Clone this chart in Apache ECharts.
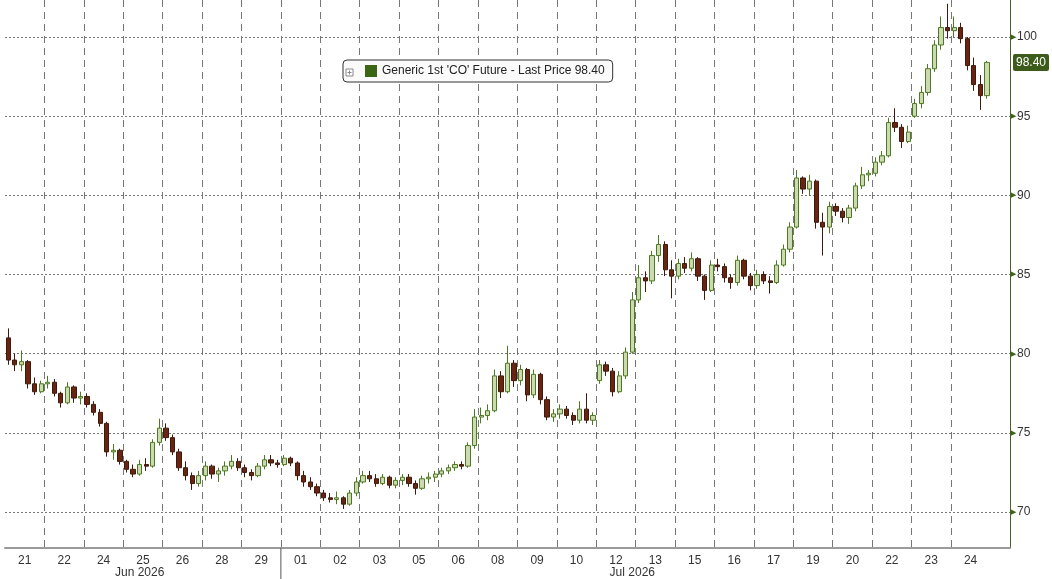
<!DOCTYPE html>
<html>
<head>
<meta charset="utf-8">
<script src="https://cdn.jsdelivr.net/npm/echarts@6/dist/echarts.min.js"></script>
<style>
  html, body { margin: 0; padding: 0; background: #fff; }
  #chart { width: 1052px; height: 579px; }
</style>
</head>
<body>
<div id="chart"></div>
<script>
// trading days shown on the axis, 6 bars (4h) per day
var days = ['21','22','24','25','26','28','29','01','02','03','05','06','08','09','10','12','13','15','16','17','19','20','22','23','24'];
var dayMonth = ['Jun','Jun','Jun','Jun','Jun','Jun','Jun','Jul','Jul','Jul','Jul','Jul','Jul','Jul','Jul','Jul','Jul','Jul','Jul','Jul','Jul','Jul','Jul','Jul','Jul'];
var hours = ['00','04','08','12','16','20'];
var seriesName = "Generic 1st 'CO' Future";
var yLabels = [70, 75, 80, 85, 90, 95, 100];

// open / high / low / close, one line per day
var opens = [
  81.0,79.6,79.3,79.5,78.1,77.6,
  78.1,78.2,77.5,76.9,77.9,77.2,
  77.3,76.8,76.3,75.6,73.8,73.9,
  73.2,72.7,72.4,73.0,72.9,74.4,
  75.3,74.7,73.8,72.8,72.3,71.8,
  72.3,72.9,72.4,72.6,72.9,73.2,
  72.8,72.5,72.3,72.9,73.3,73.1,
  73.0,73.4,73.1,72.3,71.9,71.6,
  71.2,70.9,70.8,70.9,70.5,71.2,
  71.9,72.3,72.1,71.8,72.2,71.7,
  72.0,72.2,71.8,71.5,72.1,72.2,
  72.4,72.6,72.8,73.0,72.9,74.2,
  76.0,76.1,76.4,78.6,77.6,79.4,
  78.3,79.0,77.4,78.7,77.1,76.0,
  76.2,76.5,76.1,75.8,76.5,75.8,
  78.3,79.3,78.9,77.6,78.6,80.1,
  83.4,84.8,84.6,86.2,86.9,85.3,
  84.9,85.7,85.4,86.0,84.9,84.0,
  85.6,85.5,84.8,84.5,85.9,84.9,
  84.3,85.0,84.6,84.5,85.6,86.6,
  88.0,91.1,90.4,90.9,88.3,88.0,
  89.3,89.0,88.6,89.2,90.6,91.3,
  91.4,92.1,92.5,94.6,94.3,93.4,
  95.0,95.8,96.5,98.0,99.5,100.6,
  100.4,100.6,99.9,98.2,97.0,96.3
];
var highs = [
  81.6,80.0,80.2,79.6,78.5,78.3,
  78.6,78.4,77.6,78.2,78.0,77.6,
  77.5,77.0,76.5,75.7,74.3,74.0,
  73.3,73.0,73.3,73.4,74.6,75.9,
  75.6,74.9,74.0,73.2,72.5,72.6,
  73.2,73.0,72.8,73.2,73.6,73.4,
  73.0,72.7,73.1,73.6,73.6,73.3,
  73.6,73.5,73.2,72.6,72.2,71.8,
  71.4,71.2,71.3,71.0,71.4,72.2,
  72.6,72.6,72.4,72.4,72.3,72.2,
  72.4,72.4,72.0,72.3,72.5,72.6,
  72.8,73.0,73.2,73.2,74.4,76.5,
  76.6,76.8,79.0,78.9,80.5,79.6,
  79.3,79.1,79.0,78.8,77.3,76.5,
  76.8,76.7,76.3,77.0,77.5,76.3,
  79.6,79.5,79.1,78.9,80.4,83.9,
  85.6,85.2,86.5,87.5,87.1,85.9,
  86.0,86.1,86.4,86.1,85.0,85.9,
  86.0,85.7,85.0,86.2,86.0,85.1,
  85.3,85.2,84.9,85.9,86.9,88.3,
  91.6,91.2,91.3,91.0,88.9,89.6,
  89.5,89.2,89.4,90.8,91.8,91.6,
  92.4,92.8,94.9,95.5,94.5,94.4,
  96.1,96.9,98.3,99.8,101.3,102.1,
  101.3,100.9,100.0,98.7,97.6,98.5
];
var lows = [
  79.3,78.9,78.9,77.8,77.4,77.5,
  77.8,77.3,76.6,76.8,76.9,76.8,
  76.6,76.1,75.4,73.5,73.3,73.0,
  72.5,72.2,72.3,72.6,72.8,74.2,
  74.5,73.6,72.6,72.0,71.4,71.6,
  72.0,72.1,71.9,72.3,72.7,72.6,
  72.2,72.0,72.2,72.7,72.9,72.8,
  72.9,72.9,72.0,71.6,71.4,71.0,
  70.7,70.6,70.5,70.2,70.4,71.0,
  71.8,71.9,71.6,71.7,71.5,71.5,
  71.7,71.6,71.1,71.4,71.8,71.9,
  72.2,72.4,72.6,72.7,72.8,74.0,
  75.6,75.8,76.3,77.2,77.5,77.9,
  78.0,77.0,77.2,76.8,75.8,75.7,
  75.9,75.9,75.5,75.6,75.6,75.5,
  78.1,78.6,77.3,77.5,78.4,80.0,
  83.2,83.9,84.4,85.8,84.9,83.5,
  84.7,85.1,85.2,84.6,83.4,83.9,
  85.2,84.5,84.1,84.3,84.7,84.0,
  84.1,84.4,83.8,84.4,85.5,86.4,
  87.9,90.1,90.0,87.9,86.2,87.6,
  88.7,88.3,88.2,89.0,90.4,90.9,
  91.2,91.9,92.4,94.0,93.0,93.3,
  94.9,95.5,96.3,97.8,99.2,99.9,
  100.0,99.6,97.9,96.6,95.4,96.1
];
var closes = [
  79.6,79.3,79.5,78.1,77.6,78.1,
  78.2,77.5,76.9,77.9,77.2,77.3,
  76.8,76.3,75.6,73.8,73.9,73.2,
  72.7,72.4,73.0,72.9,74.4,75.3,
  74.7,73.8,72.8,72.3,71.8,72.3,
  72.9,72.4,72.6,72.9,73.2,72.8,
  72.5,72.3,72.9,73.3,73.1,73.0,
  73.4,73.1,72.3,71.9,71.6,71.2,
  70.9,70.8,70.9,70.5,71.2,71.9,
  72.3,72.1,71.8,72.2,71.7,72.0,
  72.2,71.8,71.5,72.1,72.2,72.4,
  72.6,72.8,73.0,72.9,74.2,76.0,
  76.1,76.4,78.6,77.6,79.4,78.3,
  79.0,77.4,78.7,77.1,76.0,76.2,
  76.5,76.1,75.8,76.5,75.8,76.1,
  79.3,78.9,77.6,78.6,80.1,83.4,
  84.8,84.6,86.2,86.9,85.3,84.9,
  85.7,85.4,86.0,84.9,84.0,85.6,
  85.5,84.8,84.5,85.9,84.9,84.3,
  85.0,84.6,84.5,85.6,86.6,88.0,
  91.1,90.4,90.9,88.3,88.0,89.3,
  89.0,88.6,89.2,90.6,91.3,91.4,
  92.1,92.5,94.6,94.3,93.4,94.0,
  95.8,96.5,98.0,99.5,100.6,100.4,
  100.6,99.9,98.2,97.0,96.3,98.4
];

var perDay = hours.length;
var categories = [];
var candles = [];
for (var d = 0; d < days.length; d++) {
  for (var h = 0; h < perDay; h++) {
    categories.push(dayMonth[d] + ' ' + days[d] + ' ' + hours[h]);
  }
}
for (var i = 0; i < closes.length; i++) {
  candles.push([opens[i], closes[i], lows[i], highs[i]]);
}
// empty room on the right like the original
categories.push('', ' ', '  ');
var lastPrice = closes[closes.length - 1];
var nBars = closes.length;

var chart = echarts.init(document.getElementById('chart'));
var FONT = 'Liberation Sans';

var option = {
  animation: false,
  backgroundColor: '#ffffff',
  textStyle: { fontFamily: FONT },
  grid: { left: 5, right: 42, top: 0, bottom: 31 },
  legend: {
    left: 343, top: 60,
    padding: [5, 8, 5, 22],
    backgroundColor: '#fbfbfb',
    borderColor: '#333',
    borderWidth: 1,
    borderRadius: 4,
    itemWidth: 12, itemHeight: 12,
    icon: 'rect',
    textStyle: { fontFamily: FONT, fontSize: 12, color: '#222' },
    data: [{ name: seriesName, itemStyle: { color: '#3b6614', borderWidth: 0 } }],
    formatter: function (name) { return name + ' - Last Price ' + lastPrice.toFixed(2); }
  },
  xAxis: {
    type: 'category',
    data: categories,
    boundaryGap: true,
    axisLine: { lineStyle: { color: '#9a9a9a', width: 2 } },
    axisTick: { show: false },
    splitLine: {
      show: true,
      interval: function (idx) { return idx > 0 && idx < nBars && idx % perDay === 0; },
      lineStyle: { color: '#777', type: [7, 5], width: 1 }
    },
    axisLabel: {
      interval: function (idx) { return idx < nBars && idx % perDay === 3; },
      formatter: function (v) { return v.split(' ')[1]; },
      color: '#333', fontSize: 12, fontFamily: FONT,
      margin: 7,
      padding: [0, 6.5, 0, 0]
    }
  },
  yAxis: {
    type: 'value',
    position: 'right',
    min: 67.73, max: 102.34,
    axisLine: { show: true, lineStyle: { color: '#4a5f28', width: 1 } },
    axisTick: { show: false, customValues: yLabels },
    splitLine: { show: true, lineStyle: { color: '#777', type: [2, 2], width: 1 } },
    axisLabel: {
      customValues: yLabels,
      margin: 1,
      formatter: function (v) { return '{a|\u25B6}{b|' + v + '}'; },
      rich: {
        a: { color: '#3b6614', fontSize: 7, padding: [0, 1, 0, 0] },
        b: { color: '#333', fontSize: 12, fontFamily: FONT }
      }
    }
  },
  series: [{
    name: seriesName,
    type: 'candlestick',
    data: candles,
    barWidth: '72%',
    itemStyle: {
      color: '#cdd9b2',
      borderColor: '#4c7a1f',
      color0: '#6a2412',
      borderColor0: '#3e1a0c',
      borderWidth: 1
    },
    markLine: {
      silent: true,
      symbol: ['none', 'none'],
      lineStyle: { color: 'rgba(0,0,0,0)', width: 0 },
      label: {
        show: true,
        position: 'end',
        formatter: function () { return lastPrice.toFixed(2); },
        color: '#ffffff',
        backgroundColor: '#3d5c1c',
        padding: [3, 3, 2, 3],
        borderRadius: 2,
        fontSize: 12,
        fontFamily: FONT,
        distance: 3
      },
      emphasis: { disabled: true },
      data: [{ yAxis: lastPrice }]
    }
  }]
};
chart.setOption(option);

// month separator and month names under the day labels
var barW = chart.convertToPixel({ xAxisIndex: 0 }, categories[1]) - chart.convertToPixel({ xAxisIndex: 0 }, categories[0]);
var sepX = chart.convertToPixel({ xAxisIndex: 0 }, categories[7 * perDay]) - barW / 2;
var junX = chart.convertToPixel({ xAxisIndex: 0 }, categories[20]);
var julX = chart.convertToPixel({ xAxisIndex: 0 }, categories[95]);
chart.setOption({
  graphic: [
    { type: 'line', z: 100, shape: { x1: sepX, y1: 548, x2: sepX, y2: 579 }, style: { stroke: '#555', lineWidth: 1 } },
    { type: 'text', z: 100, x: junX, y: 573, style: { text: 'Jun 2026', font: '12px ' + FONT, fill: '#333', textAlign: 'center', textVerticalAlign: 'middle' } },
    { type: 'text', z: 100, x: julX, y: 573, style: { text: 'Jul 2026', font: '12px ' + FONT, fill: '#333', textAlign: 'center', textVerticalAlign: 'middle' } },
    { type: 'rect', z: 100, shape: { x: 346, y: 69, width: 7, height: 7 }, style: { fill: '#fff', stroke: '#888', lineWidth: 1 } },
    { type: 'line', z: 101, shape: { x1: 347.5, y1: 72.5, x2: 351.5, y2: 72.5 }, style: { stroke: '#888', lineWidth: 1 } },
    { type: 'line', z: 101, shape: { x1: 349.5, y1: 70.5, x2: 349.5, y2: 74.5 }, style: { stroke: '#888', lineWidth: 1 } }
  ]
});
</script>
</body>
</html>
